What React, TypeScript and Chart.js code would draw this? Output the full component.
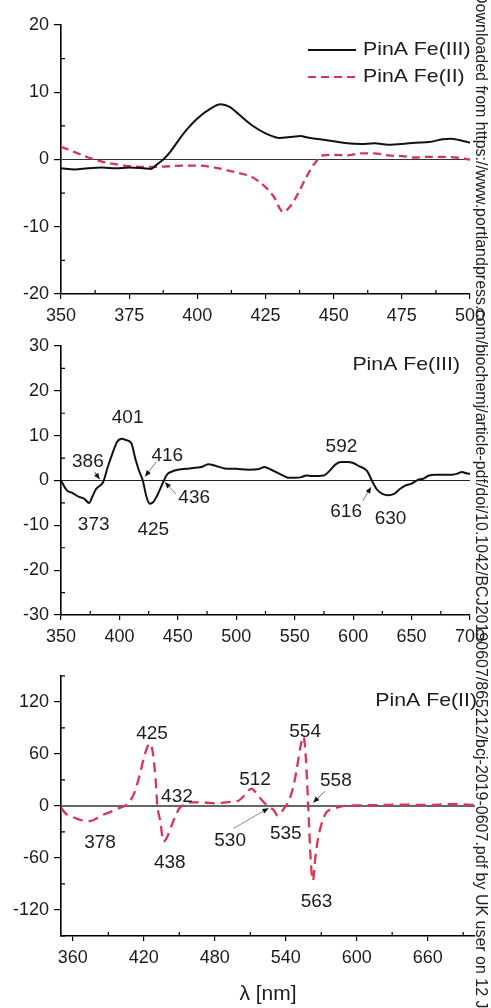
import React, { useEffect, useRef } from "react";
import { Chart, registerables } from "chart.js";

Chart.register(...registerables);

const FONT = '"Liberation Sans", Arial, Helvetica, sans-serif';
const INK = "#1c1c1c";
const RED = "#dc3350";

// ---------- Panel A: PinA Fe(III) / Fe(II), 350-500 nm ----------
const A_FE3_NM = [350, 355, 360, 365, 370, 375, 380, 383, 385, 387.5, 390, 395, 400, 405, 408.5, 412, 415, 420, 425, 428, 430, 435, 438, 440, 445, 450, 455, 460, 465, 470, 475, 480, 485, 490, 493, 496, 500];
const A_FE3_VAL = [-1.3, -1.5, -1.3, -1.2, -1.3, -1.2, -1.3, -1.4, -0.8, 0, 1.1, 3.9, 6.1, 7.6, 8.2, 7.8, 6.8, 5.1, 3.9, 3.4, 3.2, 3.4, 3.5, 3.3, 3.0, 2.7, 2.4, 2.3, 2.4, 2.2, 2.3, 2.5, 2.6, 3.0, 3.1, 2.9, 2.5];
const A_FE2_NM = [350, 355, 360, 365, 370, 375, 380, 385, 390, 395, 400, 405, 410, 415, 420, 425, 428, 431.5, 434, 437, 440, 443, 446, 450, 455, 460, 465, 470, 475, 480, 485, 490, 495, 500];
const A_FE2_VAL = [1.9, 1.1, 0.3, -0.3, -0.7, -1.0, -1.1, -1.1, -1.0, -0.9, -0.9, -1.1, -1.5, -2.0, -2.6, -4.1, -5.5, -7.8, -7.0, -5.0, -2.6, -0.6, 0.6, 0.7, 0.6, 0.9, 0.9, 0.6, 0.5, 0.3, 0.4, 0.4, 0.3, 0.0];
const A_X_RANGE = [350, 500];
const A_X_TICKS = [350, 375, 400, 425, 450, 475, 500];
const A_X_MINOR = [362.5, 387.5, 412.5, 437.5, 462.5, 487.5];
const A_Y_TICKS = [-20, -10, 0, 10, 20];
const A_Y_MINOR = [-15, -5, 5, 15];
const A_LEGEND = ["PinA Fe(III)", "PinA Fe(II)"];

// ---------- Panel B: PinA Fe(III), 350-700 nm ----------
const B_NM = [350, 355, 360, 365, 370, 374, 377, 380, 383, 386, 390, 394, 398, 402, 406, 410, 414, 417, 420, 423, 426, 429, 432, 435, 438, 441, 445, 450, 460, 470, 476, 482, 490, 500, 510, 520, 524, 530, 540, 545, 550, 555, 560, 565, 570, 575, 580, 585, 590, 595, 600, 605, 612, 616, 620, 625, 630, 635, 640, 645, 650, 655, 660, 665, 670, 675, 680, 685, 690, 693, 697, 700];
const B_VAL = [0, -2.2, -2.8, -3.6, -4.1, -5.0, -3.5, -1.9, -1.2, -0.4, 3.0, 6.0, 8.6, 9.3, 9.0, 8.4, 4.5, 2.0, 0, -3.5, -5.2, -4.8, -3.5, -1.8, 0, 1.4, 2.0, 2.4, 2.7, 3.0, 3.6, 3.3, 2.7, 2.6, 2.4, 2.6, 3.0, 2.4, 1.1, 0.6, 0.6, 0.7, 1.1, 1.0, 1.0, 1.1, 2.2, 3.6, 4.1, 4.1, 3.9, 3.2, 2.1, 0, -1.9, -3.0, -3.3, -3.0, -1.9, -1.1, -0.7, 0.1, 0.4, 1.1, 1.3, 1.3, 1.3, 1.3, 1.6, 1.9, 1.6, 1.5];
const B_X_RANGE = [350, 700];
const B_X_TICKS = [350, 400, 450, 500, 550, 600, 650, 700];
const B_X_MINOR = [375, 425, 475, 525, 575, 625, 675];
const B_Y_TICKS = [-30, -20, -10, 0, 10, 20, 30];
const B_Y_MINOR = [-25, -15, -5, 5, 15, 25];
const B_TITLE = "PinA Fe(III)";
const B_PEAK_TEXT = ["401", "386", "416", "373", "425", "436", "592", "616", "630"];
const B_PEAK_AT_NM = [407, 373, 441, 378, 429, 464, 590, 594, 632];
const B_PEAK_AT_VAL = [14, 4.2, 5.6, -9.8, -10.9, -3.8, 7.6, -6.9, -8.5];

// ---------- Panel C: PinA Fe(II), 350-700 nm ----------
const C_NM = [350, 354, 358, 362, 366, 370, 374, 378, 382, 386, 390, 395, 400, 404, 408, 412, 416, 420, 423, 425.5, 428, 430, 431.5, 434, 436.5, 439, 442, 446, 450, 455, 460, 470, 480, 490, 495, 500, 505, 511, 515, 519, 523, 527, 530, 533, 536, 539, 542, 546, 549, 552, 555, 557, 559, 561, 563, 565, 567, 570, 574, 578, 583, 590, 600, 620, 640, 660, 680, 700];
const C_VAL = [-2, -9, -12, -14, -16, -17.5, -17.5, -16, -13, -10, -8, -5, -2, 0, 5, 15, 33, 55, 68, 72, 58, 30, 0, -18, -41, -38, -28, -14, -3, 2, 4, 4, 3, 4, 5, 6, 12, 20, 15, 8, 2, -2, -5, -11, -8, -2, 4, 20, 40, 65, 80, 55, 0, -60, -86, -60, -40, -22, -8, -4, -2, 0, 0.5, 1, 1.5, 1, 2, 1];
const C_X_RANGE = [350, 700];
const C_X_TICKS = [360, 420, 480, 540, 600, 660];
const C_X_MINOR = [390, 450, 510, 570, 630, 690];
const C_Y_TICKS = [-120, -60, 0, 60, 120];
const C_Y_MINOR = [-150, -90, -30, 30, 90, 150];
const C_TITLE = "PinA Fe(II)";
const C_X_TITLE = "λ [nm]";
const C_PEAK_TEXT = ["425", "554", "512", "558", "432", "378", "530", "535", "438", "563"];
const C_PEAK_AT_NM = [427, 556.4, 514, 582.4, 448, 383, 493, 540, 442, 566];
const C_PEAK_AT_VAL = [82.7, 86, 30, 29, 11, -42, -40, -32, -65, -110];

const WATERMARK =
  "Downloaded from https://www.portlandpress.com/biochemj/article-pdf/doi/10.1042/BCJ20190607/865212/bcj-2019-0607.pdf by UK user on 12 January 2020";

type Arrow = { x1: number; y1: number; x2: number; y2: number; color: string };

function drawText(ctx: CanvasRenderingContext2D, text: string, x: number, y: number, size: number, align: CanvasTextAlign, sx = 1) {
  ctx.save();
  ctx.font = `${size}px ${FONT}`;
  ctx.fillStyle = INK;
  ctx.textBaseline = "middle";
  ctx.textAlign = align;
  ctx.translate(x, y);
  ctx.scale(sx, 1);
  ctx.fillText(text, 0, 0);
  ctx.restore();
}

function drawArrow(ctx: CanvasRenderingContext2D, x1: number, y1: number, x2: number, y2: number, color: string) {
  ctx.save();
  ctx.strokeStyle = color;
  ctx.lineWidth = 1;
  ctx.beginPath();
  ctx.moveTo(x1, y1);
  ctx.lineTo(x2, y2);
  ctx.stroke();
  const a = Math.atan2(y2 - y1, x2 - x1);
  const L = 6;
  const W = 2.6;
  const c = Math.cos(a);
  const s = Math.sin(a);
  ctx.fillStyle = "#111";
  ctx.beginPath();
  ctx.moveTo(x2, y2);
  ctx.lineTo(x2 - L * c + W * s, y2 - L * s - W * c);
  ctx.lineTo(x2 - L * c - W * s, y2 - L * s + W * c);
  ctx.closePath();
  ctx.fill();
  ctx.restore();
}

type DecorCfg = {
  xMinor: number[];
  yMinor: number[];
  zeroWidth: number;
  zeroColor: string;
  labels?: { text: string[]; nm: number[]; val: number[] };
  arrows?: Arrow[];
  title?: { text: string; dx: number; dy: number };
  legend?: boolean;
};

function makeDecor(cfg: DecorCfg) {
  return {
    id: "decor",
    beforeDatasetsDraw(chart: any) {
      const { ctx, chartArea: ca, scales } = chart;
      const xs = scales.x;
      const ys = scales.y;
      ctx.save();
      ctx.strokeStyle = cfg.zeroColor;
      ctx.lineWidth = cfg.zeroWidth;
      const y0 = ys.getPixelForValue(0);
      ctx.beginPath();
      ctx.moveTo(ca.left, y0);
      ctx.lineTo(ca.right, y0);
      ctx.stroke();
      ctx.strokeStyle = "#000";
      ctx.lineWidth = 1.2;
      ctx.beginPath();
      for (const v of cfg.xMinor) {
        const px = xs.getPixelForValue(v);
        ctx.moveTo(px, ca.bottom);
        ctx.lineTo(px, ca.bottom - 4);
      }
      for (const v of cfg.yMinor) {
        const py = ys.getPixelForValue(v);
        ctx.moveTo(ca.left, py);
        ctx.lineTo(ca.left + 4, py);
      }
      ctx.stroke();
      ctx.restore();
    },
    afterDatasetsDraw(chart: any) {
      const { ctx, chartArea: ca, scales } = chart;
      const xs = scales.x;
      const ys = scales.y;
      if (cfg.labels) {
        cfg.labels.text.forEach((t, i) => {
          drawText(ctx, t, xs.getPixelForValue(cfg.labels!.nm[i]), ys.getPixelForValue(cfg.labels!.val[i]), 19, "center");
        });
      }
      if (cfg.arrows) {
        for (const a of cfg.arrows) {
          drawArrow(ctx, xs.getPixelForValue(a.x1), ys.getPixelForValue(a.y1), xs.getPixelForValue(a.x2), ys.getPixelForValue(a.y2), a.color);
        }
      }
      if (cfg.title) {
        drawText(ctx, cfg.title.text, ca.right + cfg.title.dx, ca.top + cfg.title.dy, 19, "right", 1.12);
      }
      if (cfg.legend) {
        const rows = [
          { y: ca.top + 25, color: "#111", dash: [] as number[] },
          { y: ca.top + 52, color: RED, dash: [8, 5] },
        ];
        rows.forEach((r, i) => {
          ctx.save();
          ctx.strokeStyle = r.color;
          ctx.lineWidth = 2.2;
          ctx.setLineDash(r.dash);
          ctx.beginPath();
          ctx.moveTo(ca.right - 162, r.y);
          ctx.lineTo(ca.right - 114, r.y);
          ctx.stroke();
          ctx.restore();
          drawText(ctx, A_LEGEND[i], ca.right - 107, r.y, 19, "left", 1.12);
        });
      }
    },
  };
}

type PanelSpec = {
  datasets: any[];
  xRange: number[];
  yMin: number;
  yMax: number;
  xTicks: number[];
  yTicks: number[];
  padTop: number;
  padRight: number;
  xAxisH: number;
  xTitle?: string;
  decor: DecorCfg;
};

function buildConfig(p: PanelSpec): any {
  return {
    type: "line",
    data: { datasets: p.datasets },
    options: {
      animation: false,
      responsive: false,
      maintainAspectRatio: false,
      layout: { padding: { top: p.padTop, right: p.padRight, left: 0, bottom: 0 } },
      plugins: { legend: { display: false }, tooltip: { enabled: false } },
      elements: { point: { radius: 0 } },
      scales: {
        x: {
          type: "linear",
          min: p.xRange[0],
          max: p.xRange[1],
          afterBuildTicks: (s: any) => {
            s.ticks = p.xTicks.map((v) => ({ value: v }));
          },
          afterFit: (s: any) => {
            s.height = p.xAxisH;
          },
          ticks: {
            color: INK,
            font: { family: FONT, size: 18 },
            padding: 6,
            maxRotation: 0,
            autoSkip: false,
            callback: (v: any) => String(v),
          },
          grid: { display: true, drawOnChartArea: false, drawTicks: true, tickLength: 5, color: "#000", lineWidth: 1.2 },
          border: { display: true, color: "#000", width: 1.6 },
          title: p.xTitle
            ? { display: true, text: p.xTitle, color: INK, font: { family: FONT, size: 21 }, padding: { top: 0, bottom: 1 } }
            : { display: false },
        },
        y: {
          type: "linear",
          min: p.yMin,
          max: p.yMax,
          afterBuildTicks: (s: any) => {
            s.ticks = p.yTicks.map((v) => ({ value: v }));
          },
          afterFit: (s: any) => {
            s.width = 61;
          },
          ticks: {
            color: INK,
            font: { family: FONT, size: 18 },
            padding: 5,
            callback: (v: any) => String(v),
          },
          grid: { display: true, drawOnChartArea: false, drawTicks: true, tickLength: 7, color: "#000", lineWidth: 1.2 },
          border: { display: true, color: "#000", width: 1.6 },
        },
      },
    },
    plugins: [makeDecor(p.decor)],
  };
}

const pts = (xs: number[], ys: number[]) => xs.map((x, i) => ({ x, y: ys[i] }));

const lineStyle = { pointRadius: 0, cubicInterpolationMode: "monotone", fill: false };

function panelA(): PanelSpec {
  return {
    datasets: [
      { ...lineStyle, label: A_LEGEND[0], data: pts(A_FE3_NM, A_FE3_VAL), borderColor: "#111", borderWidth: 2 },
      { ...lineStyle, label: A_LEGEND[1], data: pts(A_FE2_NM, A_FE2_VAL), borderColor: RED, borderWidth: 2.3, borderDash: [8, 5] },
    ],
    xRange: A_X_RANGE,
    yMin: -20,
    yMax: 20,
    xTicks: A_X_TICKS,
    yTicks: A_Y_TICKS,
    padTop: 25,
    padRight: 19,
    xAxisH: 36,
    decor: { xMinor: A_X_MINOR, yMinor: A_Y_MINOR, zeroWidth: 1.2, zeroColor: "#333", legend: true },
  };
}

function panelB(): PanelSpec {
  return {
    datasets: [{ ...lineStyle, label: B_TITLE, data: pts(B_NM, B_VAL), borderColor: "#111", borderWidth: 2 }],
    xRange: B_X_RANGE,
    yMin: -30,
    yMax: 30,
    xTicks: B_X_TICKS,
    yTicks: B_Y_TICKS,
    padTop: 16,
    padRight: 18,
    xAxisH: 45,
    decor: {
      xMinor: B_X_MINOR,
      yMinor: B_Y_MINOR,
      zeroWidth: 1.2,
      zeroColor: "#222",
      labels: { text: B_PEAK_TEXT, nm: B_PEAK_AT_NM, val: B_PEAK_AT_VAL },
      arrows: [
        { x1: 378.9, y1: 1.85, x2: 383.1, y2: 0.3, color: "#333" },
        { x1: 431.3, y1: 4.1, x2: 422, y2: 0.9, color: "#777" },
        { x1: 448.3, y1: -3.0, x2: 439, y2: -0.4, color: "#777" },
        { x1: 608.3, y1: -4.5, x2: 615.3, y2: -1.5, color: "#777" },
      ],
      title: { text: B_TITLE, dx: -10, dy: 19 },
    },
  };
}

function panelC(): PanelSpec {
  return {
    datasets: [{ ...lineStyle, label: C_TITLE, data: pts(C_NM, C_VAL), borderColor: RED, borderWidth: 2.3, borderDash: [10, 6] }],
    xRange: C_X_RANGE,
    yMin: -150,
    yMax: 150,
    xTicks: C_X_TICKS,
    yTicks: C_Y_TICKS,
    padTop: 7,
    padRight: 16,
    xAxisH: 72,
    xTitle: C_X_TITLE,
    decor: {
      xMinor: C_X_MINOR,
      yMinor: C_Y_MINOR,
      zeroWidth: 1.5,
      zeroColor: "#333",
      labels: { text: C_PEAK_TEXT, nm: C_PEAK_AT_NM, val: C_PEAK_AT_VAL },
      arrows: [
        { x1: 573, y1: 16.8, x2: 563.3, y2: 3.8, color: "#777" },
        { x1: 495.8, y1: -26, x2: 525.4, y2: -2.6, color: "#888" },
      ],
      title: { text: C_TITLE, dx: 2, dy: 25 },
    },
  };
}

function Panel({ top, height, spec }: { top: number; height: number; spec: () => PanelSpec }) {
  const ref = useRef<HTMLCanvasElement>(null);
  useEffect(() => {
    const chart = new Chart(ref.current as HTMLCanvasElement, buildConfig(spec()));
    return () => chart.destroy();
  }, []);
  return (
    <canvas
      ref={ref}
      width={491}
      height={height}
      style={{ position: "absolute", left: 0, top, width: 491, height, display: "block" }}
    />
  );
}

export default function App() {
  return (
    <div style={{ position: "relative", width: 491, height: 1008, overflow: "hidden", background: "#fff" }}>
      <style>{`html,body{margin:0;padding:0;overflow:hidden;background:#fff}`}</style>
      <Panel top={0} height={330} spec={panelA} />
      <Panel top={330} height={330} spec={panelB} />
      <Panel top={660} height={348} spec={panelC} />
      <div
        style={{
          position: "absolute",
          left: 473,
          top: -8,
          writingMode: "vertical-rl",
          fontFamily: FONT,
          fontSize: 16,
          lineHeight: "16px",
          color: "#222",
          whiteSpace: "nowrap",
        }}
      >
        {WATERMARK}
      </div>
    </div>
  );
}
